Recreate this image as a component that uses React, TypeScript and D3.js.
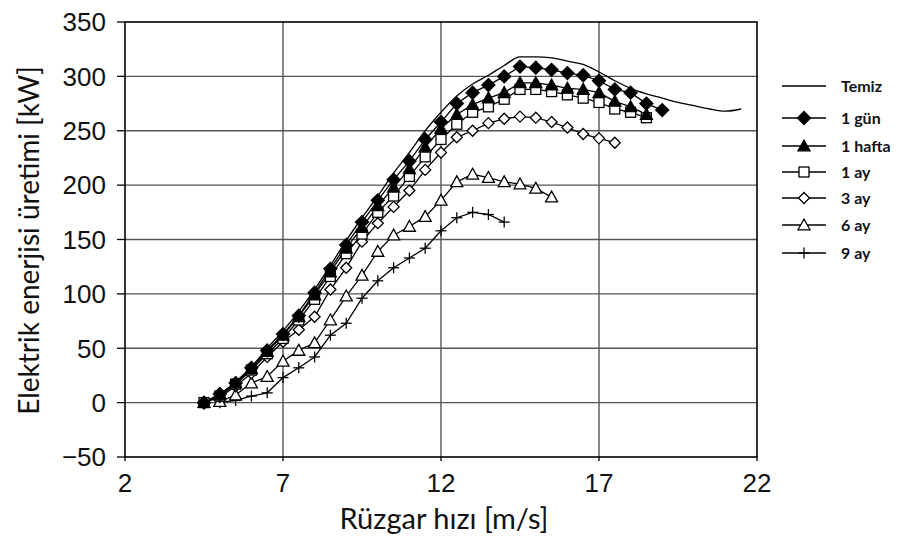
import React from "react";
import * as d3 from "d3";

const seriesNames = ["Temiz", "1 gün", "1 hafta", "1 ay", "3 ay", "6 ay", "9 ay"];

const xTemiz = [4.5,5,5.5,6,6.5,7,7.5,8,8.5,9,9.5,10,10.5,11,11.5,12,12.5,13,13.5,14,14.5,15,15.5,16,16.5,17,17.5,18,18.5,19,19.5,20,20.5,21,21.5];
const yTemiz = [0,8,19,33,50,66,84,104,126,149,170,190,211,230,250,267,282,293,301,310,318,318,317,314,311,304,296,289,284,280,276,273,270,268,270];

const x1gun = [4.5,5,5.5,6,6.5,7,7.5,8,8.5,9,9.5,10,10.5,11,11.5,12,12.5,13,13.5,14,14.5,15,15.5,16,16.5,17,17.5,18,18.5,19];
const y1gun = [0,8,18,32,48,63,80,101,123,145,166,186,205,222,242,258,275,285,292,300,309,308,306,303,301,296,288,285,275,269];

const x1hafta = [4.5,5,5.5,6,6.5,7,7.5,8,8.5,9,9.5,10,10.5,11,11.5,12,12.5,13,13.5,14,14.5,15,15.5,16,16.5,17,17.5,18,18.5];
const y1hafta = [0,7,18,31,47,62,79,99,120,142,161,181,198,215,235,252,265,274,280,285,294,294,292,289,288,285,277,272,265];

const x1ay = [4.5,5,5.5,6,6.5,7,7.5,8,8.5,9,9.5,10,10.5,11,11.5,12,12.5,13,13.5,14,14.5,15,15.5,16,16.5,17,17.5,18,18.5];
const y1ay = [0,6,17,30,45,59,76,95,116,137,155,175,190,208,226,242,256,267,272,279,288,288,286,283,280,276,270,267,262];

const x3ay = [4.5,5,5.5,6,6.5,7,7.5,8,8.5,9,9.5,10,10.5,11,11.5,12,12.5,13,13.5,14,14.5,15,15.5,16,16.5,17,17.5];
const y3ay = [0,5,15,27,42,56,67,79,104,124,148,165,180,195,214,230,244,250,257,261,263,262,258,253,247,243,239];

const x6ay = [5,5.5,6,6.5,7,7.5,8,8.5,9,9.5,10,10.5,11,11.5,12,12.5,13,13.5,14,14.5,15,15.5];
const y6ay = [1,7,18,24,38,48,55,76,98,117,139,154,162,171,186,203,210,207,203,201,197,189];

const x9ay = [5,5.5,6,6.5,7,7.5,8,8.5,9,9.5,10,10.5,11,11.5,12,12.5,13,13.5,14];
const y9ay = [0,2,6,9,23,32,42,62,73,96,112,124,133,142,158,170,175,173,166];

const xTicks = [2, 7, 12, 17, 22];
const yTicks = [-50, 0, 50, 100, 150, 200, 250, 300, 350];

type Pt = [number, number];
const zip = (xs: number[], ys: number[]): Pt[] => xs.map((x, i) => [x, ys[i]]);

const allSeries: { name: string; pts: Pt[]; marker: string }[] = [
  { name: seriesNames[6], pts: zip(x9ay, y9ay), marker: "plus" },
  { name: seriesNames[5], pts: zip(x6ay, y6ay), marker: "otri" },
  { name: seriesNames[4], pts: zip(x3ay, y3ay), marker: "odia" },
  { name: seriesNames[3], pts: zip(x1ay, y1ay), marker: "osq" },
  { name: seriesNames[2], pts: zip(x1hafta, y1hafta), marker: "ftri" },
  { name: seriesNames[1], pts: zip(x1gun, y1gun), marker: "fdia" },
  { name: seriesNames[0], pts: zip(xTemiz, yTemiz), marker: "none" },
];

const legendOrder = [
  { name: seriesNames[0], marker: "none" },
  { name: seriesNames[1], marker: "fdia" },
  { name: seriesNames[2], marker: "ftri" },
  { name: seriesNames[3], marker: "osq" },
  { name: seriesNames[4], marker: "odia" },
  { name: seriesNames[5], marker: "otri" },
  { name: seriesNames[6], marker: "plus" },
];

function Marker({ type, cx, cy }: { type: string; cx: number; cy: number }) {
  const sw = 1.3;
  switch (type) {
    case "fdia": {
      const r = 6.5;
      return <path d={`M${cx},${cy - r}L${cx + r},${cy}L${cx},${cy + r}L${cx - r},${cy}Z`} fill="#000" stroke="#000" strokeWidth={sw} />;
    }
    case "odia": {
      const r = 5.5;
      return <path d={`M${cx},${cy - r}L${cx + r},${cy}L${cx},${cy + r}L${cx - r},${cy}Z`} fill="#fff" stroke="#000" strokeWidth={sw} />;
    }
    case "ftri": {
      const h = 6;
      return <path d={`M${cx},${cy - h}L${cx + h},${cy + h * 0.8}L${cx - h},${cy + h * 0.8}Z`} fill="#000" stroke="#000" strokeWidth={sw} />;
    }
    case "otri": {
      const h = 6;
      return <path d={`M${cx},${cy - h}L${cx + h},${cy + h * 0.8}L${cx - h},${cy + h * 0.8}Z`} fill="#fff" stroke="#000" strokeWidth={sw} />;
    }
    case "osq": {
      const s = 5;
      return <rect x={cx - s} y={cy - s} width={2 * s} height={2 * s} fill="#fff" stroke="#000" strokeWidth={sw} />;
    }
    case "plus": {
      const s = 5.5;
      return (
        <g stroke="#000" strokeWidth={sw}>
          <line x1={cx - s} x2={cx + s} y1={cy} y2={cy} />
          <line x1={cx} x2={cx} y1={cy - s} y2={cy + s} />
        </g>
      );
    }
    default:
      return null;
  }
}

export default function App() {
  const W = 907, H = 536;
  const L = 125, R = 757, T = 22, B = 457;
  const x = d3.scaleLinear().domain([2, 22]).range([L, R]);
  const y = d3.scaleLinear().domain([-50, 350]).range([B, T]);
  const lineLin = d3.line<Pt>().x((d) => x(d[0])).y((d) => y(d[1]));
  const lineSmooth = d3.line<Pt>().x((d) => x(d[0])).y((d) => y(d[1])).curve(d3.curveMonotoneX);

  const legendY = [86, 118, 146, 172, 198, 225, 253];

  return (
    <svg width={W} height={H} style={{ position: "absolute", left: 0, top: 0, background: "#fff" }}>
      <rect x={0} y={0} width={W} height={H} fill="#fff" />
      {/* grid */}
      <g stroke="#555" strokeWidth={1.4}>
        {yTicks.filter((t) => t > -50 && t < 350).map((t) => (
          <line key={"gy" + t} x1={L} x2={R} y1={y(t)} y2={y(t)} />
        ))}
        {xTicks.filter((t) => t > 2 && t < 22).map((t) => (
          <line key={"gx" + t} x1={x(t)} x2={x(t)} y1={T} y2={B} />
        ))}
      </g>
      {/* ticks */}
      <g stroke="#000" strokeWidth={1.3}>
        {yTicks.map((t) => (
          <line key={"ty" + t} x1={L - 8} x2={L} y1={y(t)} y2={y(t)} />
        ))}
        {xTicks.map((t) => (
          <line key={"tx" + t} x1={x(t)} x2={x(t)} y1={B} y2={B + 4} />
        ))}
      </g>
      <rect x={L} y={T} width={R - L} height={B - T} fill="none" stroke="#000" strokeWidth={1.6} />
      {/* tick labels */}
      <g fontFamily="'Liberation Sans', Arial, sans-serif" fontSize={26} fill="#111">
        {yTicks.map((t) => (
          <text key={"ly" + t} x={L - 19} y={y(t)} dy="0.36em" textAnchor="end">
            {t < 0 ? "\u2212" + Math.abs(t) : t}
          </text>
        ))}
        {xTicks.map((t) => (
          <text key={"lx" + t} x={x(t)} y={B + 35} textAnchor="middle">
            {t}
          </text>
        ))}
      </g>
      {/* axis titles */}
      <text x={x(12) + 3} y={529} textAnchor="middle" fontFamily="Lato, 'Open Sans', sans-serif" fontSize={29} fill="#111">
        Rüzgar hızı [m/s]
      </text>
      <text
        transform={`translate(39,${(T + B) / 2 + 1}) rotate(-90)`}
        textAnchor="middle"
        fontFamily="Lato, 'Open Sans', sans-serif"
        fontSize={28}
        fill="#111"
      >
        Elektrik enerjisi üretimi [kW]
      </text>
      {/* series lines */}
      <g fill="none" stroke="#000" strokeWidth={1.3}>
        {allSeries.map((s) => (
          <path key={"l" + s.name} d={(s.marker === "none" ? lineSmooth : lineLin)(s.pts) || ""} />
        ))}
      </g>
      {/* markers */}
      {allSeries.map((s) => (
        <g key={"m" + s.name}>
          {s.pts.map((p, i) => (
            <Marker key={i} type={s.marker} cx={x(p[0])} cy={y(p[1])} />
          ))}
        </g>
      ))}
      {/* legend */}
      {legendOrder.map((s, i) => (
        <g key={"lg" + s.name}>
          <line x1={782} x2={826} y1={legendY[i]} y2={legendY[i]} stroke="#000" strokeWidth={1.3} />
          <Marker type={s.marker} cx={804} cy={legendY[i]} />
          <text x={841} y={legendY[i]} dy="0.35em" fontFamily="Lato, 'Open Sans', sans-serif" fontWeight="bold" fontSize={16} fill="#111">
            {s.name}
          </text>
        </g>
      ))}
    </svg>
  );
}
